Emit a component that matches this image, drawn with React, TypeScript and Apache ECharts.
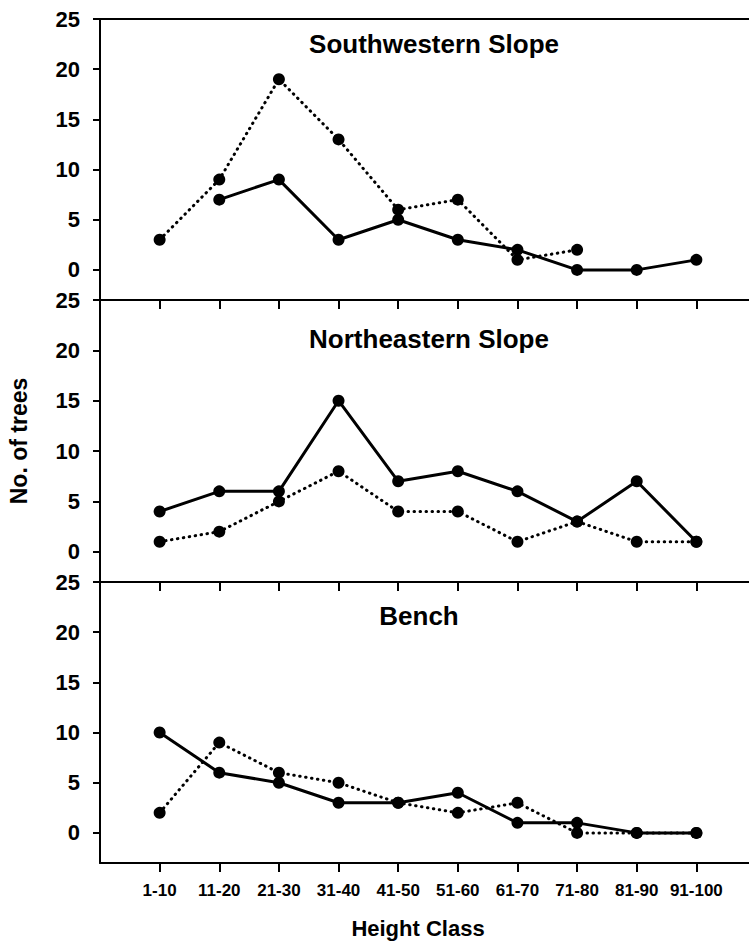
import React, { useEffect, useRef } from "react";
import * as echarts from "echarts";

const categories = ["1-10", "11-20", "21-30", "31-40", "41-50", "51-60", "61-70", "71-80", "81-90", "91-100"];
const yTicks = [0, 5, 10, 15, 20, 25];
const panelTitles = ["Southwestern Slope", "Northeastern Slope", "Bench"];

// solid line series and dotted line series per panel (null = no point)
const swSolid = [null, 7, 9, 3, 5, 3, 2, 0, 0, 1];
const swDotted = [3, 9, 19, 13, 6, 7, 1, 2, null, null];
const neSolid = [4, 6, 6, 15, 7, 8, 6, 3, 7, 1];
const neDotted = [1, 2, 5, 8, 4, 4, 1, 3, 1, 1];
const benchSolid = [10, 6, 5, 3, 3, 4, 1, 1, 0, 0];
const benchDotted = [2, 9, 6, 5, 3, 2, 3, 0, 0, 0];

const FONT = '"Liberation Sans", Arial, sans-serif';

export default function App() {
  const ref = useRef<HTMLDivElement>(null);
  useEffect(() => {
    if (!ref.current) return;
    const chart = echarts.init(ref.current, undefined, { renderer: "svg" });
    const panels = [
      { solid: swSolid, dotted: swDotted },
      { solid: neSolid, dotted: neDotted },
      { solid: benchSolid, dotted: benchDotted },
    ];
    const grids = [
      { left: 100, top: 19, width: 656, height: 281 },
      { left: 100, top: 300, width: 656, height: 282 },
      { left: 100, top: 582, width: 656, height: 281 },
    ];
    const titlePos = [
      [434, 44],
      [429, 339],
      [419, 616],
    ];
    const tickIdx = categories.map((_, i) => i);
    const toPairs = (arr: (number | null)[]) =>
      arr.map((v, i) => (v == null ? null : [i, v])).filter((p) => p !== null);

    const axisLineStyle = { color: "#000", width: 2 };

    const xAxes: any[] = grids.map((_, k) => ({
      gridIndex: k,
      type: "value",
      min: -1,
      max: 10,
      interval: 1,
      splitLine: { show: false },
      axisLine: { show: true, onZero: false, lineStyle: axisLineStyle },
      axisTick: { show: true, customValues: tickIdx, length: 9, lineStyle: axisLineStyle },
      axisLabel: {
        show: k === 2,
        customValues: tickIdx,
        formatter: (v: number) => categories[Math.round(v)] ?? "",
        color: "#000",
        fontFamily: FONT,
        fontWeight: "bold",
        fontSize: 17,
        margin: 19,
      },
    }));
    // top frame line of the first panel
    xAxes.push({
      gridIndex: 0,
      type: "value",
      position: "top",
      min: -1,
      max: 10,
      interval: 1,
      splitLine: { show: false },
      axisLine: { show: true, onZero: false, lineStyle: axisLineStyle },
      axisTick: { show: false },
      axisLabel: { show: false },
    });

    const option: any = {
      animation: false,
      backgroundColor: "#fff",
      grid: grids,
      xAxis: xAxes,
      yAxis: grids.map((_, k) => ({
        gridIndex: k,
        type: "value",
        min: -3,
        max: 25,
        splitLine: { show: false },
        axisLine: { show: true, onZero: false, lineStyle: axisLineStyle },
        axisTick: { show: true, customValues: yTicks, length: 7, lineStyle: axisLineStyle },
        axisLabel: {
          customValues: yTicks,
          color: "#000",
          fontFamily: FONT,
          fontWeight: "bold",
          fontSize: 22,
          margin: 20,
        },
      })),
      series: panels.flatMap((p, k) => [
        {
          type: "line",
          xAxisIndex: k,
          yAxisIndex: k,
          data: toPairs(p.dotted),
          symbol: "circle",
          symbolSize: 12,
          itemStyle: { color: "#000" },
          lineStyle: { color: "#000", width: 3, type: [0.5, 5.5], cap: "round" },
          z: 2,
        },
        {
          type: "line",
          xAxisIndex: k,
          yAxisIndex: k,
          data: toPairs(p.solid),
          symbol: "circle",
          symbolSize: 12,
          itemStyle: { color: "#000" },
          lineStyle: { color: "#000", width: 3, type: "solid" },
          z: 3,
        },
      ]),
      graphic: [
        ...panelTitles.map((t, k) => ({
          type: "text",
          x: titlePos[k][0],
          y: titlePos[k][1],
          style: {
            text: t,
            fill: "#000",
            font: `bold 26px ${FONT}`,
            align: "center",
            verticalAlign: "middle",
          },
        })),
        {
          type: "text",
          x: 418,
          y: 928,
          style: {
            text: "Height Class",
            fill: "#000",
            font: `bold 22px ${FONT}`,
            align: "center",
            verticalAlign: "middle",
          },
        },
        {
          type: "text",
          x: 19,
          y: 441,
          rotation: Math.PI / 2,
          style: {
            text: "No. of trees",
            fill: "#000",
            font: `bold 23px ${FONT}`,
            align: "center",
            verticalAlign: "middle",
          },
        },
      ],
    };
    chart.setOption(option);
    return () => chart.dispose();
  }, []);

  return (
    <div style={{ position: "fixed", left: 0, top: 0, width: 749, height: 947, overflow: "hidden", background: "#fff" }}>
      <div ref={ref} style={{ width: 800, height: 947 }} />
    </div>
  );
}
